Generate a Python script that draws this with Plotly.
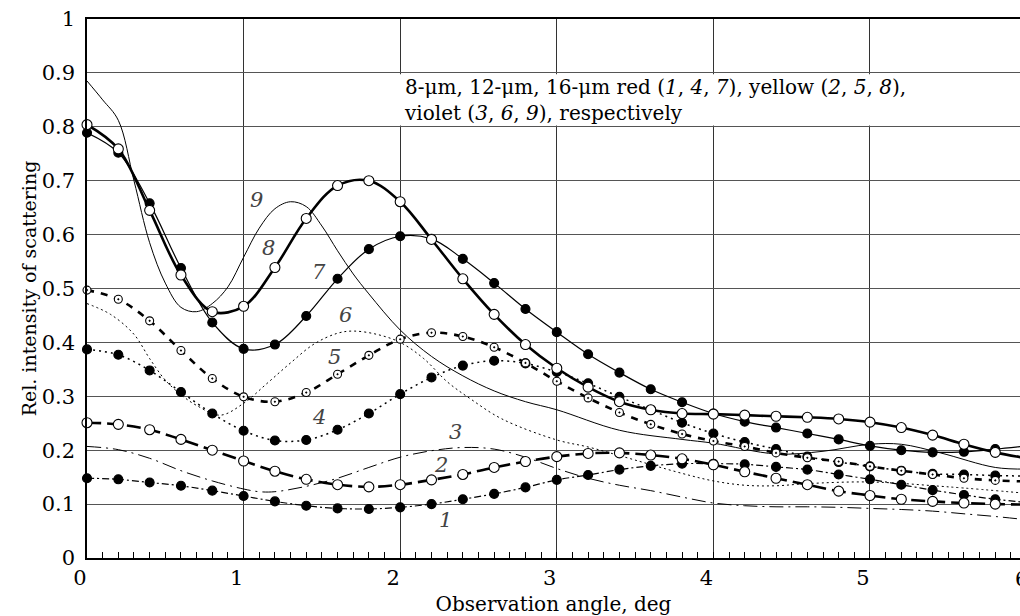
import plotly.graph_objects as go

# marker abscissas (deg)
x_pts = [0.0, 0.2, 0.4, 0.6, 0.8, 1.0, 1.2, 1.4, 1.6, 1.8, 2.0, 2.2, 2.4, 2.6, 2.8, 3.0,
         3.2, 3.4, 3.6, 3.8, 4.0, 4.2, 4.4, 4.6, 4.8, 5.0, 5.2, 5.4, 5.6, 5.8, 6.0]

# 8-um: red (1), yellow (2), violet (3)
c1 = [0.148, 0.146, 0.140, 0.134, 0.125, 0.115, 0.105, 0.097, 0.092, 0.091, 0.094, 0.100,
      0.109, 0.119, 0.131, 0.145, 0.154, 0.164, 0.171, 0.175, 0.175, 0.174, 0.169, 0.164,
      0.155, 0.146, 0.136, 0.126, 0.117, 0.109, 0.103]
c2 = [0.251, 0.248, 0.238, 0.220, 0.200, 0.180, 0.161, 0.146, 0.136, 0.132, 0.136, 0.145,
      0.155, 0.168, 0.179, 0.188, 0.194, 0.195, 0.191, 0.184, 0.173, 0.160, 0.148, 0.136,
      0.124, 0.116, 0.109, 0.105, 0.102, 0.100, 0.099]
x3 = [0.0, 0.2, 0.4, 0.6, 0.8, 1.0, 1.1, 1.2, 1.4, 1.6, 1.8, 2.0, 2.2, 2.4, 2.6, 2.8, 3.0,
      3.2, 3.4, 3.6, 3.8, 4.0, 4.2, 4.4, 4.6, 4.8, 5.0, 5.2, 5.4, 5.6, 5.8, 6.0]
c3 = [0.207, 0.201, 0.185, 0.162, 0.143, 0.128, 0.123, 0.123, 0.133, 0.148, 0.168, 0.187,
      0.199, 0.205, 0.202, 0.187, 0.166, 0.148, 0.135, 0.125, 0.113, 0.102, 0.097, 0.095,
      0.095, 0.094, 0.092, 0.090, 0.087, 0.082, 0.077, 0.071]

# 12-um: red (4), yellow (5), violet (6)
c4 = [0.387, 0.377, 0.348, 0.308, 0.268, 0.236, 0.218, 0.219, 0.238, 0.268, 0.304, 0.335,
      0.357, 0.366, 0.361, 0.345, 0.324, 0.299, 0.275, 0.251, 0.231, 0.215, 0.202, 0.188,
      0.178, 0.170, 0.162, 0.156, 0.155, 0.153, 0.152]
c5 = [0.497, 0.480, 0.440, 0.385, 0.333, 0.299, 0.290, 0.307, 0.341, 0.376, 0.406, 0.418,
      0.411, 0.391, 0.362, 0.328, 0.297, 0.270, 0.248, 0.230, 0.217, 0.207, 0.195, 0.186,
      0.179, 0.170, 0.162, 0.155, 0.148, 0.144, 0.142]
x6 = [0.0, 0.15, 0.3, 0.4, 0.5, 0.6, 0.7, 0.85, 1.0, 1.15, 1.3, 1.45, 1.6, 1.7, 1.85, 2.0,
      2.15, 2.3, 2.45, 2.65, 3.0, 3.2, 3.4, 3.8, 4.0, 4.2, 4.4, 4.6, 5.0, 5.5, 6.0]
c6 = [0.472, 0.452, 0.415, 0.370, 0.330, 0.303, 0.283, 0.265, 0.287, 0.324, 0.362, 0.397,
      0.417, 0.421, 0.415, 0.400, 0.370, 0.327, 0.295, 0.258, 0.219, 0.206, 0.190, 0.157,
      0.143, 0.135, 0.134, 0.138, 0.141, 0.132, 0.120]

# 16-um: red (7), yellow (8), violet (9)
c7 = [0.789, 0.752, 0.658, 0.538, 0.437, 0.388, 0.396, 0.449, 0.518, 0.573, 0.597, 0.592,
      0.555, 0.510, 0.462, 0.419, 0.378, 0.344, 0.313, 0.289, 0.268, 0.253, 0.242, 0.231,
      0.220, 0.208, 0.200, 0.196, 0.197, 0.202, 0.208]
c8 = [0.804, 0.759, 0.645, 0.525, 0.457, 0.467, 0.539, 0.630, 0.691, 0.700, 0.661, 0.591,
      0.518, 0.452, 0.396, 0.352, 0.317, 0.290, 0.275, 0.268, 0.267, 0.265, 0.263, 0.261,
      0.258, 0.252, 0.242, 0.228, 0.211, 0.196, 0.185]
x9 = [0.0, 0.1, 0.2, 0.3, 0.4, 0.5, 0.6, 0.7, 0.8, 0.9, 1.0, 1.1, 1.2, 1.3, 1.4, 1.5, 1.6,
      1.7, 1.8, 2.0, 2.2, 2.4, 2.6, 2.8, 3.0, 3.4, 3.8, 4.0, 4.4, 4.7, 5.0, 5.2, 5.45, 5.8, 6.0]
c9 = [0.885, 0.850, 0.812, 0.700, 0.585, 0.510, 0.465, 0.457, 0.472, 0.503, 0.558, 0.612,
      0.648, 0.661, 0.652, 0.616, 0.570, 0.527, 0.490, 0.423, 0.374, 0.338, 0.310, 0.290,
      0.275, 0.237, 0.220, 0.213, 0.193, 0.198, 0.211, 0.211, 0.195, 0.168, 0.165]

# curve labels
lab_txt = ["1", "2", "3", "4", "5", "6", "7", "8", "9"]
lab_x = [2.29, 2.26, 2.35, 1.48, 1.58, 1.65, 1.48, 1.16, 1.08]
lab_y = [0.071, 0.173, 0.234, 0.262, 0.373, 0.451, 0.531, 0.575, 0.664]

x_ticks = [0, 1, 2, 3, 4, 5]
y_ticks = [0, 0.1, 0.2, 0.3, 0.4, 0.5, 0.6, 0.7, 0.8, 0.9, 1.0]
y_tick_text = ["0", "0.1", "0.2", "0.3", "0.4", "0.5", "0.6", "0.7", "0.8", "0.9", "1"]

FONT = "DejaVu Serif"
fig = go.Figure()


def add(x, y, dash, width, symbol=None, fill="black", msize=9):
    mode = "lines+markers" if symbol else "lines"
    fig.add_trace(go.Scatter(
        x=x, y=y, mode=mode, cliponaxis=False, showlegend=False,
        line=dict(shape="spline", smoothing=1.0, dash=dash, width=width, color="black"),
        marker=dict(symbol=symbol or "circle", size=msize, color=fill,
                    line=dict(color="black", width=1.1)),
    ))


add(x3, c3, "14px,5px,2px,5px", 1.0)
add(x6, c6, "2px,3px", 1.0)
add(x9, c9, "solid", 1.0)
add(x_pts, c1, "7px,3px,2px,3px", 1.2, "circle", "black", 9)
add(x_pts, c4, "2px,4px", 1.5, "circle", "black", 9)
add(x_pts, c7, "solid", 1.2, "circle", "black", 9)
add(x_pts, c2, "14px,6px", 2.6, "circle", "white", 10)
add(x_pts, c5, "7px,7px", 2.6, "circle-dot", "white", 8)
add(x_pts, c8, "solid", 2.6, "circle", "white", 10)

for t, xx, yy in zip(lab_txt, lab_x, lab_y):
    fig.add_annotation(x=xx, y=yy, text="<i>%s</i>" % t, showarrow=False,
                       font=dict(family=FONT, size=21, color="#444444"))

# white panel behind the caption (hides the grid between 0.8 and 0.9)
fig.add_shape(type="rect", xref="x", yref="y", x0=1.995, x1=5.39, y0=0.8025, y1=0.8975,
              fillcolor="white", line=dict(width=0), layer="between")
fig.add_annotation(
    x=2.0, y=0.85, xref="x", yref="y", xanchor="left", yanchor="middle", xshift=3,
    align="left", showarrow=False, borderpad=0,
    text="8-μm, 12-μm, 16-μm red (<i>1</i>, <i>4</i>, <i>7</i>), yellow (<i>2</i>, <i>5</i>, <i>8</i>),"
         "<br>violet (<i>3</i>, <i>6</i>, <i>9</i>), respectively",
    font=dict(family=FONT, size=20, color="black"))

# tick label "6" lies just beyond the visible edge of the frame
fig.add_annotation(x=1.0, y=0, xref="paper", yref="paper", xanchor="left", yanchor="top",
                   xshift=-7, yshift=-7, text="6", showarrow=False,
                   font=dict(family=FONT, size=21, color="black"))

fig.update_layout(
    width=1020, height=616,
    margin=dict(l=87, r=0, t=19, b=58),
    paper_bgcolor="white", plot_bgcolor="white",
    font=dict(family=FONT, size=21, color="black"),
    xaxis=dict(range=[0, 5.958], tickvals=x_ticks, ticktext=[str(v) for v in x_ticks],
               showgrid=True, gridcolor="#333333", gridwidth=1,
               showline=True, linecolor="black", linewidth=1.5, mirror=True,
               ticks="inside", ticklen=6, tickcolor="black", ticklabelshift=-7,
               tickfont=dict(family=FONT, size=21),
               minor=dict(dtick=0.1, tick0=0, ticks="inside", ticklen=6, tickcolor="black",
                          showgrid=False),
               zeroline=False,
               title=dict(text="Observation angle, deg", font=dict(family=FONT, size=20),
                          standoff=8)),
    yaxis=dict(range=[0, 1.0], tickvals=y_ticks, ticktext=y_tick_text,
               showgrid=True, gridcolor="#555555", gridwidth=1,
               showline=True, linecolor="black", linewidth=1.5, mirror=False,
               ticks="", ticklabelstandoff=6, zeroline=False,
               tickfont=dict(family=FONT, size=21),
               title=dict(text="Rel. intensity of scattering", font=dict(family=FONT, size=19),
                          standoff=0)),
)

fig.write_html("out.html")
